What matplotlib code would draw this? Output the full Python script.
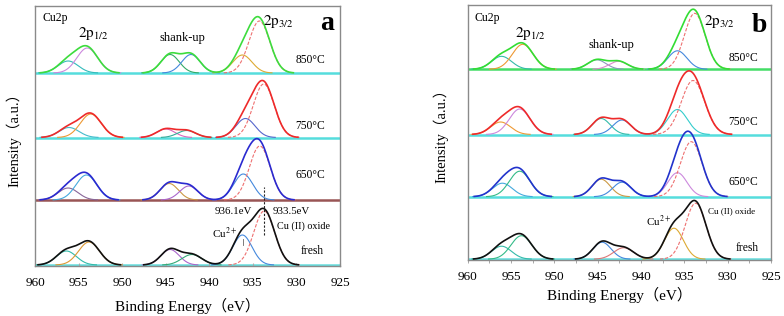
import numpy as np
import matplotlib
matplotlib.use("Agg")
import matplotlib.pyplot as plt

plt.rcParams['font.family'] = ['Liberation Serif', 'Noto Sans CJK SC', 'DejaVu Sans']
plt.rcParams['mathtext.fontset'] = 'stix'

# ---------------- data ----------------
spectra = ['fresh', '650°C', '750°C', '850°C']
# component order: 2p1/2 (high BE), 2p1/2, shake-up 1, shake-up 2, 2p3/2 shoulder (Cu2+), 2p3/2 main
a_centers = [
    [956.4, 953.8, 944.5, 942.0, 936.2, 933.7],
    [956.2, 954.1, 944.6, 942.35, 936.1, 934.2],
    [956.1, 953.6, 945.0, 942.6, 935.85, 933.75],
    [956.2, 954.0, 944.5, 942.1, 936.2, 934.25],
]
a_heights = [
    [14, 23, 15.5, 10.5, 30, 54],
    [12, 25, 16.5, 14, 26, 54],
    [10, 23.5, 8.5, 7, 19, 53.5],
    [12, 25, 18.5, 18.5, 18, 52],
]
a_sigmas = [
    [1.15, 1.2, 1.05, 1.15, 1.1, 1.2],
    [1.15, 1.2, 1.05, 1.05, 1.1, 1.2],
    [1.15, 1.2, 1.05, 1.05, 1.1, 1.2],
    [1.15, 1.2, 1.05, 1.05, 1.1, 1.2],
]
b_centers = [
    [956.1, 953.8, 944.5, 942.0, 936.2, 933.7],
    [956.0, 954.0, 944.6, 942.2, 935.8, 934.2],
    [956.2, 954.0, 944.6, 942.2, 935.8, 934.0],
    [956.1, 953.65, 945.1, 942.6, 935.8, 933.8],
]
b_heights = [
    [13, 23.5, 17, 11.5, 31, 56],
    [13.5, 25.5, 17.5, 14.5, 24, 55],
    [12.5, 25.5, 16, 14.5, 25, 54],
    [13, 25, 9.5, 8, 18.5, 56],
]
b_sigmas = [
    [1.15, 1.2, 1.05, 1.15, 1.1, 1.2],
    [1.15, 1.2, 1.05, 1.05, 1.1, 1.25],
    [1.15, 1.2, 1.05, 1.05, 1.15, 1.35],
    [1.15, 1.2, 1.05, 1.05, 1.1, 1.2],
]
a_offsets = [1, 66, 128.5, 193]
b_offsets = [0.3, 62.8, 125, 190.2]
xticks = [960, 955, 950, 945, 940, 935, 930, 925]

# ---------------- styles ----------------
a_env_colors = ['#111111', '#2a2ad0', '#ee2a2a', '#3ddc3d']
b_env_colors = ['#111111', '#2233cc', '#ee2a2a', '#33dd33']
a_comp_colors = [
    ['#33bbaa', '#dd9933', '#aa66cc', '#33aa77', '#4488dd', '#ee7070'],
    ['#886699', '#44aadd', '#cc9944', '#aa66cc', '#4488dd', '#ee7070'],
    ['#44bbcc', '#ee9933', '#dd66bb', '#33aa99', '#5566cc', '#ee7070'],
    ['#33bbbb', '#cc88dd', '#33aa66', '#4488dd', '#ddaa33', '#ee7070'],
]
b_comp_colors = [
    ['#33bbaa', '#33bb88', '#4488dd', '#dd7777', '#ddaa33', '#ee7070'],
    ['#44aadd', '#33bb88', '#cc9944', '#4488dd', '#cc88dd', '#ee7070'],
    ['#ee9933', '#cc88dd', '#33bbaa', '#4488dd', '#33cccc', '#ee7070'],
    ['#33bbaa', '#ee9933', '#8899bb', '#dd88cc', '#4488dd', '#ee7070'],
]
a_base_colors = ['#66dddd', '#995555', '#55dddd', '#55dddd']
b_base_colors = ['#66dddd', '#55dddd', '#55dddd', '#44dd66']

fig = plt.figure(figsize=(7.84, 3.16), dpi=100)
W, H = 784, 316
axa = fig.add_axes([35 / W, 1 - 266 / H, 305 / W, 260 / H])
axb = fig.add_axes([467.7 / W, 1 - 259.5 / H, 303.3 / W, 255 / H])

x = np.linspace(960, 925, 1400)


def gauss(c, h, s):
    return h * np.exp(-(x - c) ** 2 / (2 * s ** 2))


def draw(ax, centers, heights, sigmas, offsets, env_colors, comp_colors, base_colors):
    for i in range(len(offsets)):
        off = offsets[i]
        ax.axhline(off, color=base_colors[i], lw=1.8, zorder=1)
        total = np.zeros_like(x)
        for j in range(len(centers[i])):
            g = gauss(centers[i][j], heights[i][j], sigmas[i][j])
            total += g
            ls = (0, (3, 1.5)) if j == 5 else '-'
            gm = np.where(g > 0.15, g, np.nan)
            ax.plot(x, gm + off, color=comp_colors[i][j], lw=0.8, ls=ls, zorder=2)
        tm = np.where(total > 0.25, total, np.nan)
        ax.plot(x, tm + off, color=env_colors[i], lw=1.2, zorder=3)


draw(axa, a_centers, a_heights, a_sigmas, a_offsets, a_env_colors, a_comp_colors, a_base_colors)
draw(axb, b_centers, b_heights, b_sigmas, b_offsets, b_env_colors, b_comp_colors, b_base_colors)

for ax, ylim in ((axa, (0, 260)), (axb, (0, 255))):
    ax.set_xlim(960, 925)
    ax.set_ylim(*ylim)
    ax.set_yticks([])
    ax.set_xticks(xticks)
    ax.set_xticklabels([str(t) for t in xticks], fontsize=9.5)
    for sp in ax.spines.values():
        sp.set_color('#8a8a8a')
        sp.set_linewidth(1.0)

axa.set_xlabel('Binding Energy（eV）', fontsize=11, labelpad=6)
axa.set_ylabel('Intensity（a.u.）', fontsize=10.5, labelpad=10)
axb.set_xlabel('Binding Energy（eV）', fontsize=11, labelpad=3)
axb.set_ylabel('Intensity（a.u.）', fontsize=10.5, labelpad=14)

axa.tick_params(axis='x', direction='in', length=2, color='#aaaaaa', pad=8)
axb.set_xticks(np.arange(957.5, 925, -5), minor=True)
axb.tick_params(axis='x', which='both', direction='out', length=2, width=0.6, color='#999999', pad=6)

tk = dict(fontsize=8.3, ha='center', va='center')
# panel a texts
axa.text(957.7, 248, 'Cu2p', fontsize=8.5, ha='center', va='center')
axa.text(953.35, 232, r'$\mathrm{2p_{1/2}}$', fontsize=11, ha='center', va='center')
axa.text(943.1, 228, 'shank-up', fontsize=9, ha='center', va='center')
axa.text(932.1, 244, r'$\mathrm{2p_{3/2}}$', fontsize=11, ha='center', va='center')
axa.text(926.5, 243, 'a', fontsize=20, fontweight='bold', ha='center', va='center')
for lab, y in zip(['850°C', '750°C', '650°C'], [206, 140, 91]):
    axa.text(928.4, y, lab, **tk)
axa.text(928.25, 15, 'fresh', **tk)
axa.text(937.3, 54.3, '936.1eV', fontsize=7.8, ha='center', va='center')
axa.text(930.6, 55, '933.5eV', fontsize=7.8, ha='center', va='center')
axa.text(929.2, 40.3, 'Cu (II) oxide', fontsize=7.3, ha='center', va='center')
axa.text(938.2, 33, 'Cu$^{2+}$', fontsize=8, ha='center', va='center')
axa.plot([933.75, 933.75], [31, 79], color='#222222', lw=0.8, ls=(0, (2, 1.5)), zorder=4)
axa.plot([936.1, 936.1], [21, 27.5], color='#666666', lw=0.6, zorder=4)

# panel b texts
axb.text(957.8, 241.5, 'Cu2p', fontsize=8.5, ha='center', va='center')
axb.text(952.8, 226.5, r'$\mathrm{2p_{1/2}}$', fontsize=11, ha='center', va='center')
axb.text(943.4, 214.5, 'shank-up', fontsize=9, ha='center', va='center')
axb.text(930.9, 237.5, r'$\mathrm{2p_{3/2}}$', fontsize=11, ha='center', va='center')
axb.text(926.3, 234.5, 'b', fontsize=20, fontweight='bold', ha='center', va='center')
for lab, y in zip(['850°C', '750°C', '650°C'], [201.5, 137.5, 77.5]):
    axb.text(928.2, y, lab, **tk)
axb.text(927.8, 11.8, 'fresh', **tk)
axb.text(929.5, 48.5, 'Cu (II) oxide', fontsize=6.5, ha='center', va='center')
axb.text(938.0, 37.8, 'Cu$^{2+}$', fontsize=8, ha='center', va='center')

fig.savefig('out.png', dpi=100)
